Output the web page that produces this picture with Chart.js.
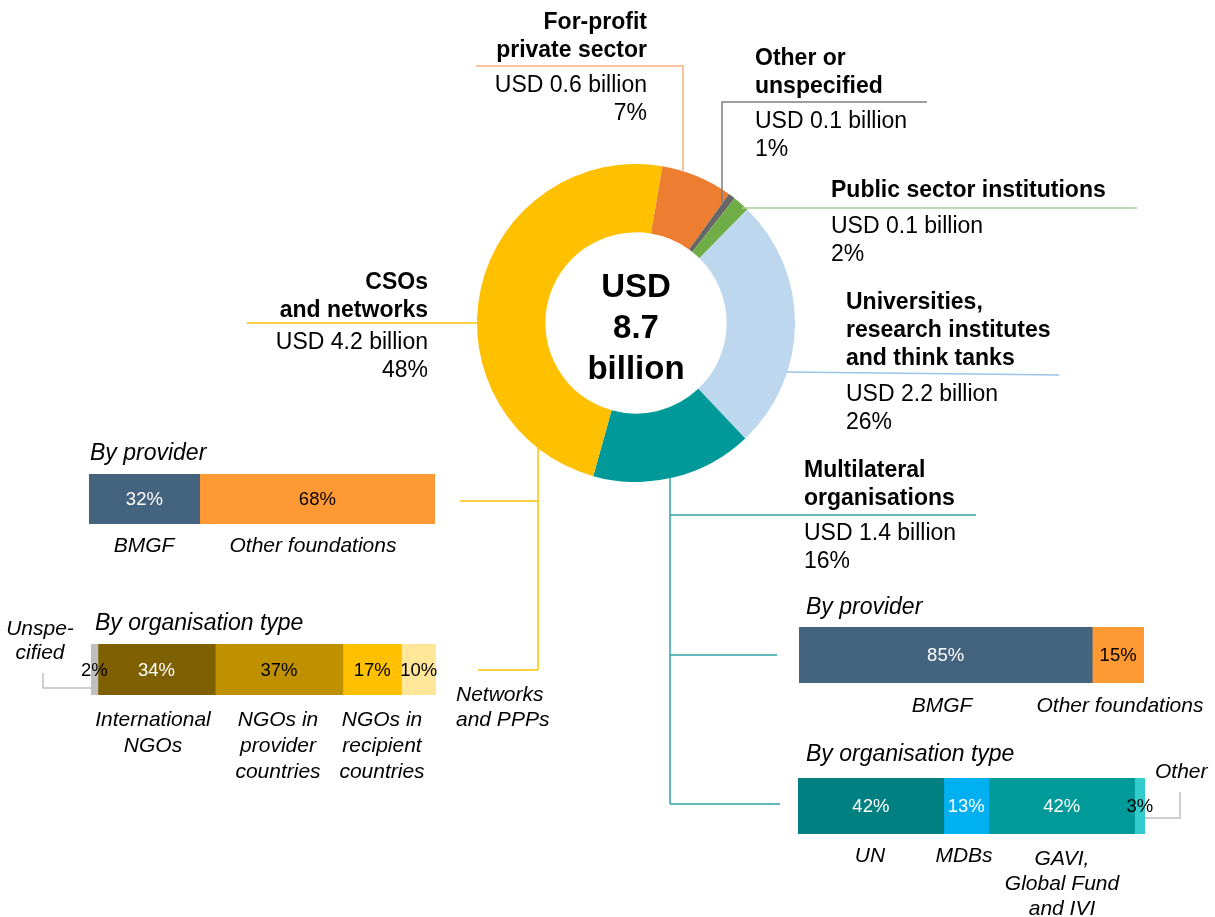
<!DOCTYPE html>
<html>
<head>
<meta charset="utf-8">
<script src="https://cdn.jsdelivr.net/npm/chart.js@4"></script>
<style>
  body { margin: 0; background: #fff; }
  #stage { position: relative; width: 1215px; height: 917px; overflow: hidden;
           font-family: "Liberation Sans", Arial, sans-serif; color: #000; }
  .box { position: absolute; }
  .txt { position: absolute; white-space: pre; }
  svg { position: absolute; left: 0; top: 0; }
</style>
</head>
<body>
<div id="stage">
  <div class="box" style="left:477px;top:164px;width:318px;height:318px"><canvas id="donut"></canvas></div>
  <div class="box" style="left:69px;top:474px;width:386px;height:50px"><canvas id="csoProvider"></canvas></div>
  <div class="box" style="left:71px;top:644px;width:385px;height:51px"><canvas id="csoType"></canvas></div>
  <div class="box" style="left:779px;top:627px;width:385px;height:56px"><canvas id="multiProvider"></canvas></div>
  <div class="box" style="left:778px;top:778px;width:387px;height:56px"><canvas id="multiType"></canvas></div>
  <svg id="lines" width="1215" height="917"></svg>
</div>
<script>
const donutCategories = ['For-profit private sector', 'Other or unspecified', 'Public sector institutions',
  'Universities, research institutes and think tanks', 'Multilateral organisations', 'CSOs and networks'];
const donutShares = [7.3, 0.7, 1.7, 25.6, 16.4, 48.3];
const donutBillions = [0.6, 0.1, 0.1, 2.2, 1.4, 4.2];
const donutPercents = [7, 1, 2, 26, 16, 48];
const totalBillions = 8.7;

// breakdown bars
const csoProviderCats = ['BMGF', 'Other foundations'];
const csoProviderValues = [32, 68];
const csoTypeCats = ['Unspecified', 'International NGOs', 'NGOs in provider countries',
  'NGOs in recipient countries', 'Networks and PPPs'];
const csoTypeValues = [2, 34, 37, 17, 10];
const multiProviderCats = ['BMGF', 'Other foundations'];
const multiProviderValues = [85, 15];
const multiTypeCats = ['UN', 'MDBs', 'GAVI, Global Fund and IVI', 'Other'];
const multiTypeValues = [42, 13, 42, 3];

const donutColors = ['#ED7D31', '#666666', '#70AD47', '#BDD7EE', '#009999', '#FFC000'];
const providerColors = ['#44637F', '#FF9933'];
const providerText = ['#fff', '#000'];
const csoTypeColors = ['#BFBFBF', '#7F6000', '#BF9000', '#FFC000', '#FFE699'];
const csoTypeText = ['#000', '#fff', '#000', '#000', '#000'];
const multiTypeColors = ['#008080', '#00B0F0', '#009A9A', '#33CCCC'];
const multiTypeText = ['#fff', '#fff', '#fff', '#000'];

const FONT = '"Liberation Sans", Arial, sans-serif';

new Chart(document.getElementById('donut'), {
  type: 'doughnut',
  data: {
    labels: donutCategories,
    datasets: [{ data: donutShares, backgroundColor: donutColors, borderWidth: 0 }],
  },
  options: {
    responsive: true,
    maintainAspectRatio: false,
    animation: false,
    events: [],
    rotation: 9.5,
    cutout: '57%',
    plugins: { legend: { display: false }, tooltip: { enabled: false } },
  },
});

const barLabels = {
  id: 'barLabels',
  afterDatasetsDraw(chart) {
    const ctx = chart.ctx;
    chart.data.datasets.forEach((ds, i) => {
      const p = chart.getDatasetMeta(i).data[0].getCenterPoint();
      ctx.save();
      ctx.fillStyle = ds.labelColor;
      ctx.font = '18.5px ' + FONT;
      ctx.textAlign = 'center';
      ctx.textBaseline = 'middle';
      ctx.fillText(ds.data[0] + '%', p.x, p.y + 1);
      ctx.restore();
    });
  },
};

function stackBar(id, cats, values, colors, textColors) {
  return new Chart(document.getElementById(id), {
    type: 'bar',
    data: {
      labels: [''],
      datasets: cats.map((c, i) => ({
        label: c,
        data: [values[i]],
        backgroundColor: colors[i],
        labelColor: textColors[i],
        borderWidth: 0,
        barPercentage: 1,
        categoryPercentage: 1,
      })),
    },
    options: {
      indexAxis: 'y',
      responsive: true,
      maintainAspectRatio: false,
      animation: false,
      events: [],
      layout: { padding: { left: 20, right: 20 } },
      scales: {
        x: { stacked: true, min: 0, max: 100, display: false },
        y: { stacked: true, display: false },
      },
      plugins: { legend: { display: false }, tooltip: { enabled: false } },
    },
    plugins: [barLabels],
  });
}

stackBar('csoProvider', csoProviderCats, csoProviderValues, providerColors, providerText);
stackBar('csoType', csoTypeCats, csoTypeValues, csoTypeColors, csoTypeText);
stackBar('multiProvider', multiProviderCats, multiProviderValues, providerColors, providerText);
stackBar('multiType', multiTypeCats, multiTypeValues, multiTypeColors, multiTypeText);

// text
const stage = document.getElementById('stage');
function addText(lines, x, y, o) {
  o = o || {};
  const lh = o.lh || 28;
  const d = document.createElement('div');
  d.className = 'txt';
  d.textContent = lines.join('\n');
  d.style.font = (o.italic ? 'italic ' : '') + (o.bold ? 'bold ' : '') + (o.size || 23) + 'px ' + FONT;
  d.style.lineHeight = lh + 'px';
  d.style.top = (y - lh / 2) + 'px';
  const align = o.align || 'left';
  d.style.textAlign = align;
  if (align === 'left') d.style.left = x + 'px';
  else if (align === 'right') { d.style.left = (x - 500) + 'px'; d.style.width = '500px'; }
  else { d.style.left = (x - 250) + 'px'; d.style.width = '500px'; }
  stage.appendChild(d);
}

const calloutTitles = [['For-profit', 'private sector'], ['Other or', 'unspecified'],
  ['Public sector institutions'], ['Universities,', 'research institutes', 'and think tanks'],
  ['Multilateral', 'organisations'], ['CSOs', 'and networks']];
const calloutSpots = [
  { x: 647, y: 21, y2: 85, align: 'right' },
  { x: 755, y: 57, y2: 121 },
  { x: 831, y: 189, y2: 226 },
  { x: 846, y: 301, y2: 394 },
  { x: 804, y: 469, y2: 533 },
  { x: 428, y: 281, y2: 342, align: 'right' },
];
calloutTitles.forEach((t, i) => {
  const s = calloutSpots[i];
  addText(t, s.x, s.y, { bold: true, align: s.align });
  addText(['USD ' + donutBillions[i].toFixed(1) + ' billion', donutPercents[i] + '%'], s.x, s.y2,
    { align: s.align, lh: 27.5 });
});

addText(['USD', String(totalBillions), 'billion'], 636, 285, { bold: true, size: 33, lh: 41, align: 'center' });

const it = { italic: true, size: 21, align: 'center', lh: 26 };
addText(['By provider'], 90, 452, { italic: true });
addText([csoProviderCats[0]], 144, 545, it);
addText([csoProviderCats[1]], 313, 545, it);
addText(['By organisation type'], 95, 622, { italic: true });
addText(['Unspe-', 'cified'], 40, 628, { italic: true, size: 21, align: 'center', lh: 24 });
addText(['International', 'NGOs'], 153, 719, it);
addText(['NGOs in', 'provider', 'countries'], 278, 719, it);
addText(['NGOs in', 'recipient', 'countries'], 382, 719, it);
addText(['Networks', 'and PPPs'], 456, 693, { italic: true, size: 21, lh: 25 });

addText(['By provider'], 806, 606, { italic: true });
addText([multiProviderCats[0]], 942, 705, it);
addText([multiProviderCats[1]], 1120, 705, it);
addText(['By organisation type'], 806, 753, { italic: true });
addText([multiTypeCats[3]], 1155, 771, { italic: true, size: 21 });
addText([multiTypeCats[0]], 870, 855, it);
addText([multiTypeCats[1]], 964, 855, it);
addText(['GAVI,', 'Global Fund', 'and IVI'], 1062, 857, { italic: true, size: 21, align: 'center', lh: 25 });

// connector lines
const connectors = [
  ['#F4B183', [[476, 66], [683, 66], [683, 172]]],
  ['#7F7F7F', [[927, 102], [722, 102], [722, 203]]],
  ['#A9D18E', [[742, 208], [1137, 208]]],
  ['#9DC3E6', [[787, 372], [1059, 375]]],
  ['#FFC000', [[247, 323], [478, 323]]],
  ['#FFC000', [[538, 448], [538, 670]]],
  ['#FFC000', [[460, 501], [538, 501]]],
  ['#FFC000', [[478, 670], [538, 670]]],
  ['#2EA3A3', [[670, 478], [670, 804]]],
  ['#2EA3A3', [[670, 515], [976, 515]]],
  ['#2EA3A3', [[670, 655], [777, 655]]],
  ['#2EA3A3', [[670, 804], [780, 804]]],
  ['#BFBFBF', [[43, 673], [43, 688], [91, 688]]],
  ['#BFBFBF', [[1145, 818], [1180, 818], [1180, 792]]],
];
const svg = document.getElementById('lines');
connectors.forEach(([color, pts]) => {
  const pl = document.createElementNS('http://www.w3.org/2000/svg', 'polyline');
  pl.setAttribute('points', pts.map(p => p.join(',')).join(' '));
  pl.setAttribute('fill', 'none');
  pl.setAttribute('stroke', color);
  pl.setAttribute('stroke-width', '1.5');
  svg.appendChild(pl);
});
</script>
</body>
</html>
